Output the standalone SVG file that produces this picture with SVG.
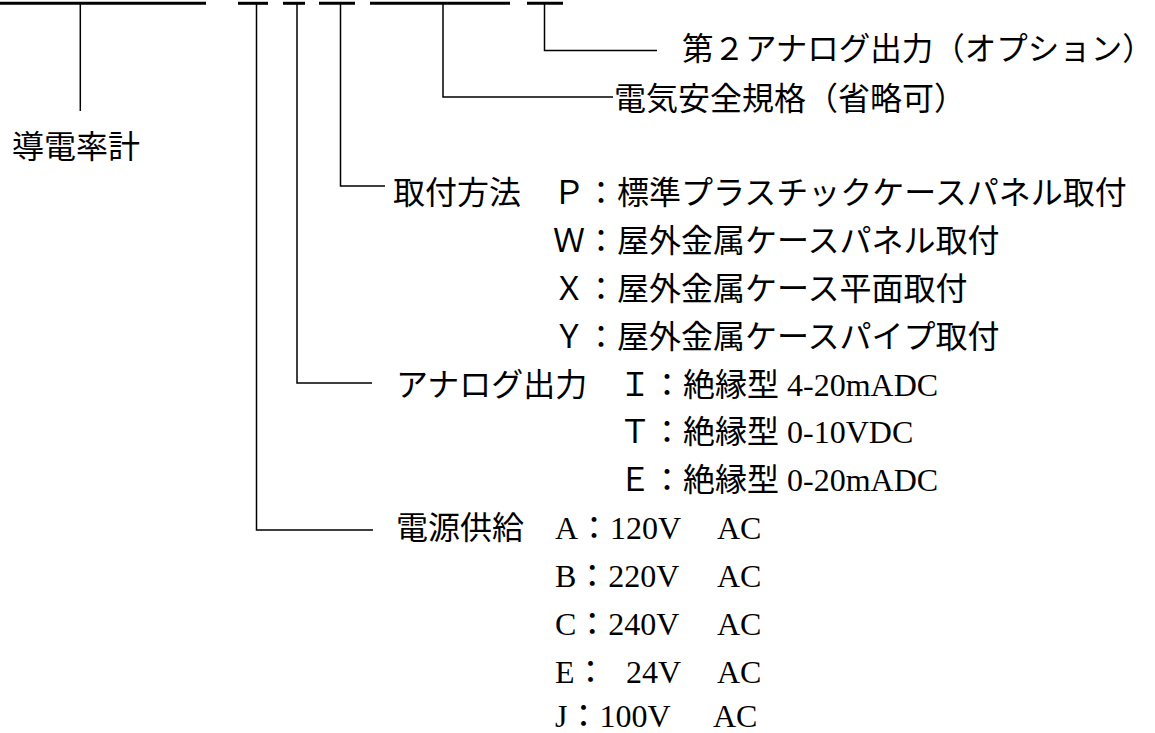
<svg xmlns="http://www.w3.org/2000/svg" width="1155" height="733" viewBox="0 0 1155 733">
<style>
.bar{stroke:#000;stroke-width:3;fill:none}
.ln{stroke:#000;stroke-width:1.5;fill:none}
.j{font-family:"Noto Sans CJK JP","Noto Sans CJK SC",sans-serif;font-size:32px;fill:#000}
.s{font-family:"Liberation Serif","Noto Sans CJK JP",serif;font-size:32px;fill:#000}
</style>
<rect width="1155" height="733" fill="#fff"/>
<g id="code-bars">
<line class="bar" x1="0" y1="3.3" x2="206" y2="3.3"/>
<line class="bar" x1="238" y1="3.3" x2="268" y2="3.3"/>
<line class="bar" x1="283" y1="3.3" x2="305" y2="3.3"/>
<line class="bar" x1="319" y1="3.3" x2="355" y2="3.3"/>
<line class="bar" x1="370" y1="3.3" x2="510" y2="3.3"/>
<line class="bar" x1="527" y1="3.3" x2="563" y2="3.3"/>
</g>
<g id="connectors">
<path class="ln" d="M80.3,3 V111"/>
<path class="ln" d="M256.5,3 V530 H373"/>
<path class="ln" d="M297,3 V383 H372"/>
<path class="ln" d="M340.5,3 V186 H385"/>
<path class="ln" d="M443,3 V97 H613"/>
<path class="ln" d="M544.5,3 V50.5 H657"/>
</g>
<g id="node-meter"><text class="j" x="12" y="158">導電率計</text></g>
<g id="node-option"><text class="j" x="682" y="60" style="font-size:31.5px">第２アナログ出力（オプション）</text></g>
<g id="node-safety"><text class="j" x="614" y="110">電気安全規格（省略可）</text></g>
<g id="node-mount">
<text class="j" x="393" y="204">取付方法</text>
<text class="j" x="553" y="204">Ｐ：標準プラスチックケースパネル取付</text>
<text class="j" x="553" y="252">Ｗ：屋外金属ケースパネル取付</text>
<text class="j" x="553" y="300">Ｘ：屋外金属ケース平面取付</text>
<text class="j" x="553" y="348">Ｙ：屋外金属ケースパイプ取付</text>
</g>
<g id="node-analog">
<text class="j" x="396" y="396">アナログ出力</text>
<text x="619" y="396"><tspan class="j">Ｉ：絶縁型</tspan><tspan class="s"> 4-20mADC</tspan></text>
<text x="619" y="443"><tspan class="j">Ｔ：絶縁型</tspan><tspan class="s"> 0-10VDC</tspan></text>
<text x="619" y="491"><tspan class="j">Ｅ：絶縁型</tspan><tspan class="s"> 0-20mADC</tspan></text>
</g>
<g id="node-power">
<text class="j" x="396" y="539">電源供給</text>
<text class="s" x="555" y="539">A：120V</text><text class="s" x="717" y="539">AC</text>
<text class="s" x="555" y="587">B：220V</text><text class="s" x="717" y="587">AC</text>
<text class="s" x="555" y="635">C：240V</text><text class="s" x="717" y="635">AC</text>
<text class="s" x="555" y="683">E：<tspan x="626">24V</tspan></text><text class="s" x="717" y="683">AC</text>
<text class="s" x="555" y="727">J：100V</text><text class="s" x="713" y="727">AC</text>
</g>
</svg>
